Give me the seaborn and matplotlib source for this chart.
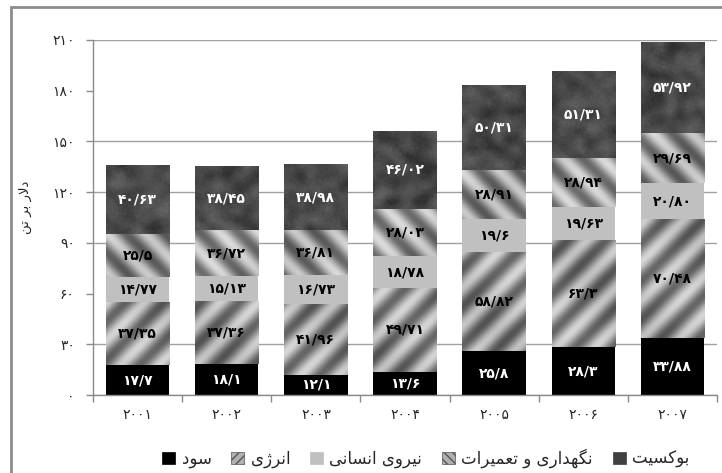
import numpy as np
import pandas as pd
import matplotlib
matplotlib.use("Agg")
import matplotlib.pyplot as plt
import seaborn as sns
from matplotlib.patches import Patch, Rectangle
from matplotlib.ticker import FuncFormatter

# ---------------- data ----------------
years = ["2001", "2002", "2003", "2004", "2005", "2006", "2007"]
profit = [17.7, 18.1, 12.1, 13.6, 25.8, 28.3, 33.88]
energy = [37.35, 37.36, 41.96, 49.71, 58.82, 63.3, 70.48]
labor = [14.77, 15.13, 16.73, 18.78, 19.6, 19.63, 20.80]
maintenance = [25.5, 26.72, 26.81, 28.03, 28.91, 28.94, 29.69]
bauxite = [40.63, 38.45, 38.98, 46.02, 50.31, 51.31, 53.92]

# label texts exactly as printed on the chart
profit_labels = ["17.7", "18.1", "12.1", "13.6", "25.8", "28.3", "33.88"]
energy_labels = ["37.35", "37.36", "41.96", "49.71", "58.82", "63.3", "70.48"]
labor_labels = ["14.77", "15.13", "16.73", "18.78", "19.6", "19.63", "20.80"]
maintenance_labels = ["25.5", "36.72", "36.81", "28.03", "28.91", "28.94", "29.69"]
bauxite_labels = ["40.63", "38.45", "38.98", "46.02", "50.31", "51.31", "53.92"]

series_names = ["سود", "انرژی", "نیروی انسانی", "نگهداری و تعمیرات", "بوکسیت"]
y_label = "دلار بر تن"
y_ticks = [0, 30, 60, 90, 120, 150, 180, 210]
hidden_grid = [60, 180]

# ---------------- helpers ----------------
FA = str.maketrans("0123456789.", "۰۱۲۳۴۵۶۷۸۹/")


def fa(s):
    return str(s).translate(FA)


FORMS = {
    "ا": (0xFE8D, 0xFE8E), "ب": (0xFE8F, 0xFE90, 0xFE91, 0xFE92),
    "ت": (0xFE95, 0xFE96, 0xFE97, 0xFE98), "د": (0xFEA9, 0xFEAA),
    "ر": (0xFEAD, 0xFEAE), "ژ": (0xFB8A, 0xFB8B),
    "س": (0xFEB1, 0xFEB2, 0xFEB3, 0xFEB4), "ع": (0xFEC9, 0xFECA, 0xFECB, 0xFECC),
    "ل": (0xFEDD, 0xFEDE, 0xFEDF, 0xFEE0), "م": (0xFEE1, 0xFEE2, 0xFEE3, 0xFEE4),
    "ن": (0xFEE5, 0xFEE6, 0xFEE7, 0xFEE8), "ه": (0xFEE9, 0xFEEA, 0xFEEB, 0xFEEC),
    "و": (0xFEED, 0xFEEE), "ی": (0xFBFC, 0xFBFD, 0xFBFE, 0xFBFF),
    "ک": (0xFB8E, 0xFB8F, 0xFB90, 0xFB91), "گ": (0xFB92, 0xFB93, 0xFB94, 0xFB95),
}


def shape(text):
    out = []
    i = 0
    n = len(text)
    while i < n:
        c = text[i]
        if c not in FORMS:
            out.append(c)
            i += 1
            continue
        prev = text[i - 1] if i > 0 else None
        nxt = text[i + 1] if i + 1 < n else None
        jp = prev in FORMS and len(FORMS[prev]) == 4
        if c == "ل" and nxt == "ا":
            out.append(chr(0xFEFC if jp else 0xFEFB))
            i += 2
            continue
        jn = len(FORMS[c]) == 4 and nxt in FORMS
        f = FORMS[c]
        if jp and jn:
            out.append(chr(f[3]))
        elif jp:
            out.append(chr(f[1]))
        elif jn:
            out.append(chr(f[2]))
        else:
            out.append(chr(f[0]))
        i += 1
    return "".join(reversed(out))


# ---------------- figure ----------------
sns.set_style("white")
plt.rcParams["font.family"] = ["DejaVu Sans"]

W_PX, H_PX, DPI = 722, 473, 100
fig = plt.figure(figsize=(W_PX / DPI, H_PX / DPI), dpi=DPI)
L, R, B, T = 93 / W_PX, 717 / W_PX, 1 - 395 / H_PX, 1 - 40 / H_PX
ax = fig.add_axes([L, B, R - L, T - B])

df = pd.DataFrame({"year": [fa(y) for y in years]})
layers = [
    (profit, profit_labels, "#000000", "white", None),
    (energy, energy_labels, "#9c9c9c", "black", "fwd"),
    (labor, labor_labels, "#c0c0c0", "black", None),
    (maintenance, maintenance_labels, "#a4a4a4", "black", "bwd"),
    (bauxite, bauxite_labels, "#424242", "white", "noise"),
]

# textures (pixel-sized to the axes)
tw = int(round((R - L) * W_PX))
th = int(round((T - B) * H_PX))
yy, xx = np.mgrid[0:th, 0:tw].astype(float)


def hashn(a, b):
    return np.modf(np.abs(np.sin(a * 12.9898 + b * 78.233)) * 43758.5453)[0]


def blur(a, k):
    acc = np.zeros_like(a)
    for dy in range(k):
        for dx in range(k):
            acc += np.roll(np.roll(a, dy, 0), dx, 1)
    return acc / (k * k)


def texture(kind):
    if kind == "fwd":
        ph = (xx + yy) / 38.0
        return 0.58 + 0.22 * np.sin(2 * np.pi * ph) + 0.04 * np.sin(2 * np.pi * (xx - yy) / 150.0)
    if kind == "bwd":
        ph = (xx - yy) / 38.0
        return 0.60 + 0.22 * np.sin(2 * np.pi * ph) + 0.04 * np.sin(2 * np.pi * (xx + yy) / 150.0)
    c = 9
    cy, cx = np.mgrid[0:th // c + 2, 0:tw // c + 2].astype(float)
    coarse = np.kron(hashn(cx, cy), np.ones((c, c)))[:th, :tw]
    coarse = blur(blur(coarse, c), 3)
    fine = blur(hashn(xx * 1.37, yy * 0.91), 2)
    swirl = np.sin(xx / 8.0 + 2.5 * np.sin(yy / 12.0)) * np.sin(yy / 10.0 + 1.8 * np.cos(xx / 15.0))
    return 0.19 + 0.13 * coarse + 0.07 * fine + 0.05 * swirl


bottom = np.zeros(len(years))
for vals, labs, col, tcol, tex in layers:
    vals = np.asarray(vals, dtype=float)
    df["v"] = vals
    sns.barplot(data=df, x="year", y="v", color=col, width=0.71, errorbar=None,
                bottom=bottom, ax=ax, linewidth=0, saturation=1)
    cont = ax.containers[-1]
    if tex is not None:
        img = texture(tex)
        for p in cont.patches:
            im = ax.imshow(img, extent=[-0.5, len(years) - 0.5, 0, 210], aspect="auto",
                           cmap="gray", vmin=0, vmax=1, interpolation="bilinear", zorder=1.5)
            im.set_clip_path(p)
    ax.bar_label(cont, labels=[fa(s) for s in labs], label_type="center",
                 color=tcol, fontsize=10, fontweight="bold", zorder=5)
    bottom = bottom + vals

ax.set_xlim(-0.5, len(years) - 0.5)
ax.set_ylim(0, 210)
ax.set_xlabel("")
ax.set_ylabel("")

# axes styling
for s in ["top", "right"]:
    ax.spines[s].set_visible(False)
for s in ["left", "bottom"]:
    ax.spines[s].set_color("#8a8a8a")
    ax.spines[s].set_linewidth(1)

ax.set_yticks(y_ticks)
ax.yaxis.set_major_formatter(FuncFormatter(lambda v, p: fa(int(v))))
ax.tick_params(axis="y", length=5, width=1, color="#8a8a8a", pad=8, labelsize=10, left=True)
ax.grid(axis="y", color="#a0a0a0", linewidth=1)
ax.set_axisbelow(True)
for tv, gl in zip(y_ticks, ax.yaxis.get_gridlines()):
    if tv in hidden_grid:
        gl.set_visible(False)

ax.set_xticks(np.arange(len(years) + 1) - 0.5, minor=True)
ax.tick_params(axis="x", which="major", length=0, pad=9, labelsize=10)
ax.tick_params(axis="x", which="minor", length=5, width=1, color="#8a8a8a", bottom=True)

# y label
fig.text(25 / W_PX, 1 - 207 / H_PX, shape(y_label), rotation=90, ha="center", va="center",
         fontsize=9.5)

# legend
handles = [
    Patch(facecolor="#000000", edgecolor="#000000", lw=0.5),
    Patch(facecolor="#b0b0b0", edgecolor="#555555", hatch="////", lw=0.5),
    Patch(facecolor="#c0c0c0", edgecolor="#c0c0c0", lw=0.5),
    Patch(facecolor="#b0b0b0", edgecolor="#555555", hatch="\\\\\\\\", lw=0.5),
    Patch(facecolor="#404040", edgecolor="#404040", lw=0.5),
]
fig.legend(handles, [shape(s) for s in series_names], loc="center",
           bbox_to_anchor=(0.59, 1 - 458 / H_PX), ncol=5, frameon=False,
           fontsize=12, handlelength=0.75, handleheight=0.75, handletextpad=0.4,
           columnspacing=1.2, borderaxespad=0)

# outer frame
fig.patches.append(Rectangle((11 / W_PX, -0.2), 1.2, 1 - 7 / H_PX + 0.2, transform=fig.transFigure,
                             fill=False, edgecolor="#8c8c8c", linewidth=2, figure=fig))

fig.savefig("out.png", dpi=DPI)
